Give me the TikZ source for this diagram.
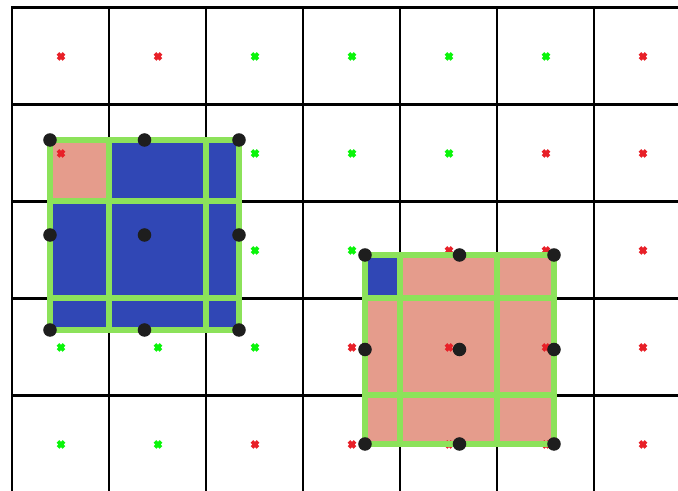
\documentclass[tikz,border=0pt]{standalone}
\usepackage{tikz}

\definecolor{roiblue}{RGB}{48,71,181}
\definecolor{roipink}{RGB}{229,156,140}
\definecolor{edgegreen}{RGB}{140,226,90}
\definecolor{markred}{RGB}{232,32,40}
\definecolor{markgreen}{RGB}{10,245,10}
\definecolor{dotgray}{RGB}{30,30,30}

\begin{document}
\begin{tikzpicture}[
    x=0.01cm, y=-0.01cm,
    gridline/.style={draw=black, line width=0.65pt, line cap=rect},
    roiedge/.style ={draw=edgegreen, line width=1.75pt, line cap=rect},
    xmark/.style   ={line width=1.05pt},
    sample/.style  ={circle, fill=dotgray, inner sep=0pt, minimum size=1.35mm},
]
\useasboundingbox (0,0) rectangle (678,491);
\clip (0,0) rectangle (678,491);

% feature map grid
\foreach \i in {0,...,7}
    \draw[gridline] (12+97*\i,7.5) -- (12+97*\i,500);
\foreach \j in {0,...,5}
    \draw[gridline] (12,7.5+97*\j) -- (700,7.5+97*\j);

% roi cells
\fill[roiblue] (50,140) rectangle (239,330);
\fill[roipink] (50,140) rectangle (109,201);
\fill[roipink] (365,255) rectangle (554,444);
\fill[roiblue] (365,255) rectangle (400,298);

% cell centres
\foreach \c/\r/\col in {0/0/markred,1/0/markred,2/0/markgreen,3/0/markgreen,4/0/markgreen,5/0/markgreen,6/0/markred,
                        0/1/markred,2/1/markgreen,3/1/markgreen,4/1/markgreen,5/1/markred,6/1/markred,
                        2/2/markgreen,3/2/markgreen,4/2/markred,5/2/markred,6/2/markred,
                        0/3/markgreen,1/3/markgreen,2/3/markgreen,3/3/markred,4/3/markred,5/3/markred,6/3/markred,
                        0/4/markgreen,1/4/markgreen,2/4/markred,3/4/markred,4/4/markred,5/4/markred,6/4/markred}
    \draw[xmark, draw=\col, shift={(61+97*\c,56.5+97*\r)}] (-3,-3) -- (3,3) (-3,3) -- (3,-3);

% roi bins
\draw[roiedge] (50,140) rectangle (239,330);
\draw[roiedge] (109,140) -- (109,330) (206,140) -- (206,330);
\draw[roiedge] (50,201) -- (239,201) (50,298) -- (239,298);
\draw[roiedge] (365,255) rectangle (554,444);
\draw[roiedge] (400,255) -- (400,444) (497,255) -- (497,444);
\draw[roiedge] (365,298) -- (554,298) (365,395) -- (554,395);

% sampling points
\foreach \x [count=\i] in {50,144.5,239}
    \foreach \y [count=\j] in {140,235,330}
        \node[sample] (a-\i-\j) at (\x,\y) {};
\foreach \x [count=\i] in {365,459.5,554}
    \foreach \y [count=\j] in {255,349.5,444}
        \node[sample] (b-\i-\j) at (\x,\y) {};
\end{tikzpicture}
\end{document}
